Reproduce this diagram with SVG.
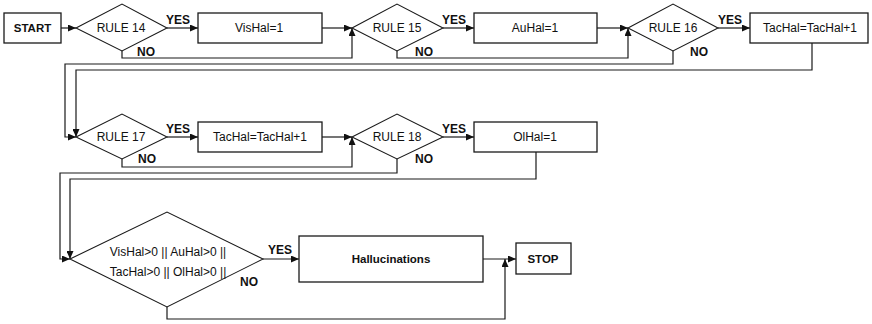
<svg xmlns="http://www.w3.org/2000/svg" width="872" height="324" viewBox="0 0 872 324">
<style>
.box{fill:#fff;stroke:#1a1a1a;stroke-width:1.3}
.dia{fill:#fff;stroke:#1a1a1a;stroke-width:1.1}
.ln{fill:none;stroke:#1a1a1a;stroke-width:1.2}
text{font-family:"Liberation Sans",Arial,sans-serif;fill:#111;text-anchor:middle}
.t{font-size:12px}
.b{font-size:11.5px;font-weight:bold}
.lbl{font-size:12px;font-weight:bold}
</style>
<defs>
<marker id="ah" markerWidth="9" markerHeight="7" refX="8" refY="3.5" orient="auto" markerUnits="userSpaceOnUse">
<path d="M0,0 L8,3.5 L0,7 z" fill="#111"/>
</marker>
</defs>
<rect width="872" height="324" fill="#fff"/>
<g id="connectors">
<path class="ln" d="M61,28 L76,28" marker-end="url(#ah)"/>
<path class="ln" d="M167,28 L198,28" marker-end="url(#ah)"/>
<path class="ln" d="M322,28 L352,28" marker-end="url(#ah)"/>
<path class="ln" d="M122,51 L122,58 L352,58 L352,28" marker-end="url(#ah)"/>
<path class="ln" d="M443,28 L474,28" marker-end="url(#ah)"/>
<path class="ln" d="M597,28 L628,28" marker-end="url(#ah)"/>
<path class="ln" d="M397,51 L397,58 L628,58 L628,28" marker-end="url(#ah)"/>
<path class="ln" d="M718,28 L750,28" marker-end="url(#ah)"/>
<path class="ln" d="M673,51 L673,64 L65,64 L65,137 L76,137" marker-end="url(#ah)"/>
<path class="ln" d="M812,43 L812,70 L76,70 L76,137" marker-end="url(#ah)"/>
<path class="ln" d="M167,137 L198,137" marker-end="url(#ah)"/>
<path class="ln" d="M322,137 L352,137" marker-end="url(#ah)"/>
<path class="ln" d="M122,159 L122,167 L352,167 L352,137" marker-end="url(#ah)"/>
<path class="ln" d="M443,137 L474,137" marker-end="url(#ah)"/>
<path class="ln" d="M397,159 L397,173 L60,173 L60,259 L70,259" marker-end="url(#ah)"/>
<path class="ln" d="M536,152 L536,179 L70,179 L70,259" marker-end="url(#ah)"/>
<path class="ln" d="M263,259 L299,259" marker-end="url(#ah)"/>
<path class="ln" d="M483,259 L516,259" marker-end="url(#ah)"/>
<path class="ln" d="M167,307 L167,319 L505,319 L505,259" marker-end="url(#ah)"/>
<text class="lbl" x="178" y="24">YES</text>
<text class="lbl" x="454" y="24">YES</text>
<text class="lbl" x="730" y="24">YES</text>
<text class="lbl" x="178" y="133">YES</text>
<text class="lbl" x="454" y="133">YES</text>
<text class="lbl" x="280" y="254">YES</text>
<text class="lbl" x="146" y="56">NO</text>
<text class="lbl" x="424" y="56">NO</text>
<text class="lbl" x="699" y="56">NO</text>
<text class="lbl" x="147" y="163">NO</text>
<text class="lbl" x="424" y="163">NO</text>
<text class="lbl" x="249" y="286">NO</text>
</g>
<g id="start"><rect class="box" x="4" y="13" width="57" height="30"/><text class="b" x="32.5" y="32">START</text></g>
<g id="rule14"><polygon class="dia" points="76,28 122,4 167,28 122,51"/><text class="t" x="121" y="32">RULE 14</text></g>
<g id="vishal"><rect class="box" x="198" y="13" width="124" height="30"/><text class="t" x="259" y="32">VisHal=1</text></g>
<g id="rule15"><polygon class="dia" points="352,28 397,4 443,28 397,51"/><text class="t" x="397" y="32">RULE 15</text></g>
<g id="auhal"><rect class="box" x="474" y="13" width="123" height="30"/><text class="t" x="535" y="32">AuHal=1</text></g>
<g id="rule16"><polygon class="dia" points="628,28 673,4 718,28 673,51"/><text class="t" x="673" y="32">RULE 16</text></g>
<g id="tachal1"><rect class="box" x="750" y="13" width="118" height="30"/><text class="t" x="810" y="32">TacHal=TacHal+1</text></g>
<g id="rule17"><polygon class="dia" points="76,137 122,114 167,137 122,159"/><text class="t" x="121" y="141">RULE 17</text></g>
<g id="tachal2"><rect class="box" x="198" y="122" width="124" height="30"/><text class="t" x="260" y="141">TacHal=TacHal+1</text></g>
<g id="rule18"><polygon class="dia" points="352,137 397,114 443,137 397,159"/><text class="t" x="397" y="141">RULE 18</text></g>
<g id="olhal"><rect class="box" x="474" y="122" width="123" height="30"/><text class="t" x="535" y="141">OlHal=1</text></g>
<g id="condition"><polygon class="dia" points="70,259 167,212 263,259 167,307"/><text class="t" x="168" y="256" font-size="11.5">VisHal&gt;0 || AuHal&gt;0 ||</text><text class="t" x="168" y="276" font-size="11.5">TacHal&gt;0 || OlHal&gt;0 ||</text></g>
<g id="hallucinations"><rect class="box" x="299" y="236" width="184" height="46"/><text class="b" x="391" y="263">Hallucinations</text></g>
<g id="stop"><rect class="box" x="516" y="243" width="55" height="31"/><text class="b" x="543" y="263">STOP</text></g>
</svg>
